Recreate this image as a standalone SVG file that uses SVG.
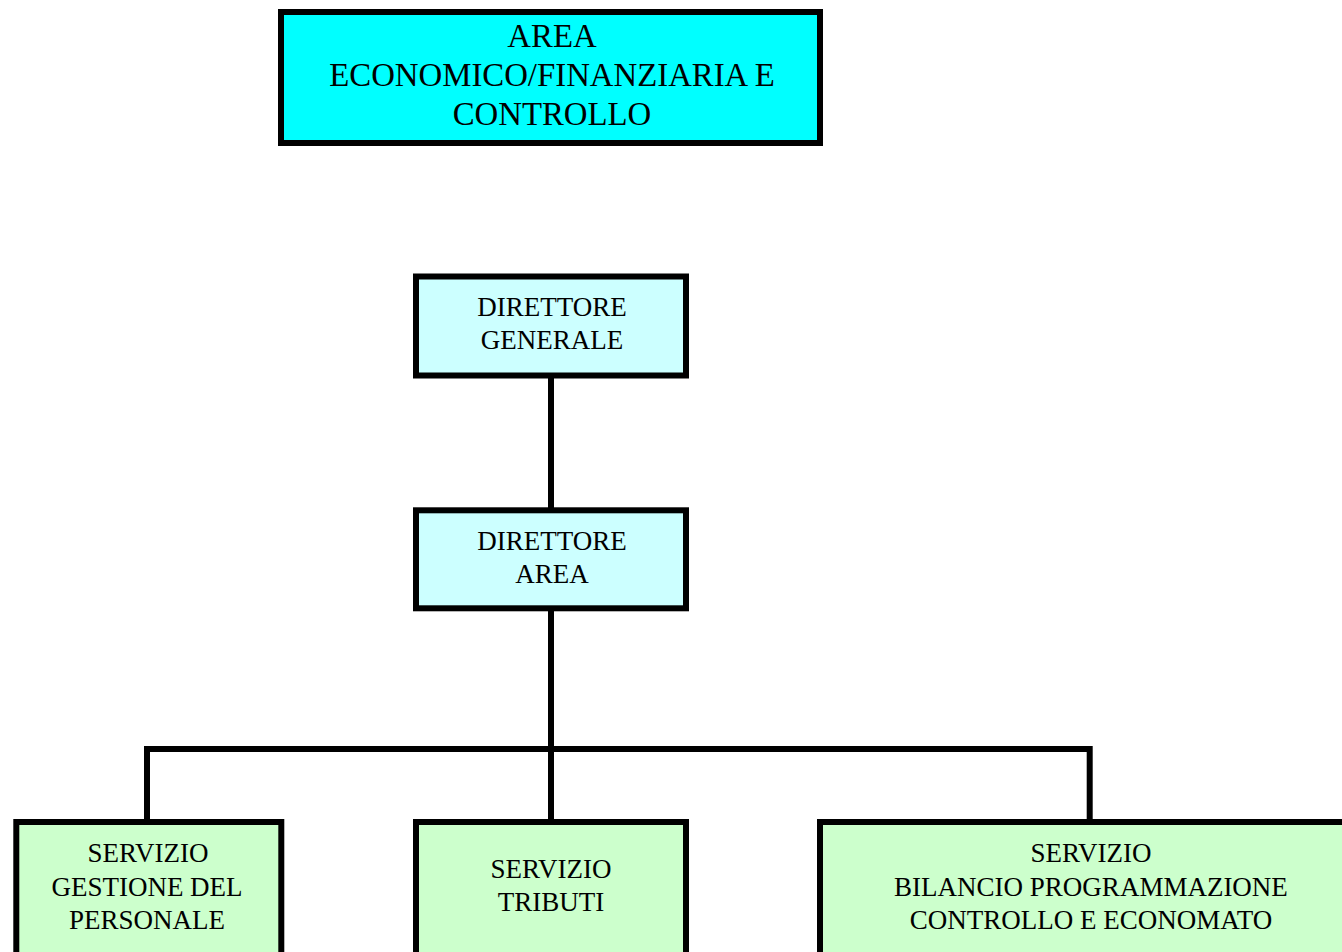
<svg xmlns="http://www.w3.org/2000/svg" width="1342" height="952" viewBox="0 0 1342 952">
<style>
.box{stroke:#000;stroke-width:6}
.top{fill:#00FFFF}
.dir{fill:#CCFFFF}
.srv{fill:#CCFFCC}
.t{font-family:"Liberation Serif","Times New Roman",serif;fill:#000;text-anchor:middle}
.t32{font-size:32.8px}
.t24{font-size:27px}
.c{stroke:#000;stroke-width:6;fill:none;stroke-linecap:butt}
</style>
<rect width="1342" height="952" fill="#fff"/>
<g id="connectors">
<line class="c" x1="551" y1="378" x2="551" y2="508"/>
<line class="c" x1="551" y1="611" x2="551" y2="749"/>
<path class="c" d="M147,820 V749 H1089.7 V820" stroke-linejoin="miter"/>
<line class="c" x1="551" y1="749" x2="551" y2="820"/>
</g>
<g id="area">
<rect class="box top" x="281" y="12" width="539" height="131"/>
<text class="t t32" x="552" y="47">AREA</text>
<text class="t t32" x="552" y="86">ECONOMICO/FINANZIARIA E</text>
<text class="t t32" x="552" y="125">CONTROLLO</text>
</g>
<g id="direttore-generale">
<rect class="box dir" x="416" y="276.5" width="270" height="99"/>
<text class="t t24" x="552" y="316">DIRETTORE</text>
<text class="t t24" x="552" y="348.5">GENERALE</text>
</g>
<g id="direttore-area">
<rect class="box dir" x="416" y="510.3" width="270" height="98"/>
<text class="t t24" x="552" y="550">DIRETTORE</text>
<text class="t t24" x="552" y="582.7">AREA</text>
</g>
<g id="servizio-personale">
<rect class="box srv" x="16.3" y="822" width="265" height="140"/>
<text class="t t24" x="148" y="862">SERVIZIO</text>
<text class="t t24" x="147" y="895.5">GESTIONE DEL</text>
<text class="t t24" x="147" y="929">PERSONALE</text>
</g>
<g id="servizio-tributi">
<rect class="box srv" x="416" y="822" width="270" height="140"/>
<text class="t t24" x="551" y="878">SERVIZIO</text>
<text class="t t24" x="551" y="911">TRIBUTI</text>
</g>
<g id="servizio-bilancio">
<rect class="box srv" x="820" y="822" width="542" height="140"/>
<text class="t t24" x="1091" y="862">SERVIZIO</text>
<text class="t t24" x="1091" y="895.5">BILANCIO PROGRAMMAZIONE</text>
<text class="t t24" x="1091" y="929">CONTROLLO E ECONOMATO</text>
</g>
</svg>
